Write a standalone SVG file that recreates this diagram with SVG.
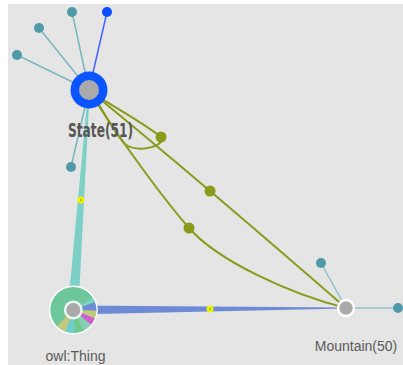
<svg xmlns="http://www.w3.org/2000/svg" width="403" height="365" viewBox="0 0 403 365">
  <style>
    .sat-link { stroke: #78b6c1; stroke-width: 1.5; fill: none; }
    .sat { fill: #4f9aa8; }
    .prop { stroke: #8a9b1b; stroke-width: 2; fill: none; }
    .prop-dot { fill: #8a9b1b; }
    .mark { fill: #eef200; }
    .mark-core { fill: #a6a820; }
    .label { font-family: "Liberation Sans", Arial, sans-serif; font-size: 14px; fill: #5a5a5a; text-anchor: middle; }
    .title { font-family: "Liberation Sans Narrow", "DejaVu Sans Condensed", "Liberation Sans", sans-serif; font-weight: bold; font-size: 19px; fill: #565656; text-anchor: middle; }
  </style>

  <!-- canvas -->
  <rect x="0" y="0" width="403" height="365" fill="#ffffff"/>
  <rect x="8" y="4" width="395" height="361" fill="#e5e5e5"/>

  <!-- connectors -->
  <g id="links">
    <!-- satellite spokes around State -->
    <line class="sat-link" x1="72" y1="12" x2="89" y2="90"/>
    <line x1="107" y1="12" x2="89" y2="90" stroke="#4266ff" stroke-width="1.5"/>
    <line class="sat-link" x1="39" y1="28" x2="89" y2="90"/>
    <line class="sat-link" x1="17" y1="55" x2="89" y2="90"/>
    <line class="sat-link" x1="71" y1="167" x2="89" y2="90"/>
    <!-- satellite spokes around Mountain -->
    <line x1="321" y1="263" x2="346" y2="308" stroke="#8cc3cc" stroke-width="1.5"/>
    <line x1="398" y1="308" x2="346" y2="308" stroke="#8cc3cc" stroke-width="1.5"/>

    <!-- State -> owl:Thing (tapered) -->
    <polygon points="89.8,90 88.2,90 67.7,309.6 78.3,310.4" fill="#7cd0c6"/>
    <!-- owl:Thing -> Mountain (tapered) -->
    <polygon points="73,305.6 73,314.4 346,308.4 346,307.6" fill="#6f8ad5"/>

    <!-- State -> Mountain properties -->
    <path class="prop" d="M89,90 Q202.5,183 346,308"/>
    <path class="prop" d="M89,90 C110,125 160,195 189,228 C218,261 290,294 346,308"/>
    <!-- State self-loop -->
    <path class="prop" d="M92,93 C120,110 148,126 161,137 C166,146 140,153 126,145 C118,138 108,120 98,103"/>
  </g>

  <!-- property label markers -->
  <g id="markers">
    <circle class="prop-dot" cx="161" cy="137" r="5.5"/>
    <circle class="prop-dot" cx="210" cy="191" r="5.5"/>
    <circle class="prop-dot" cx="189" cy="228" r="5.5"/>
    <circle class="mark" cx="81" cy="200" r="3.5"/>
    <circle class="mark-core" cx="81" cy="200" r="1"/>
    <circle class="mark" cx="210" cy="309" r="3.5"/>
    <circle class="mark-core" cx="210" cy="309" r="1"/>
  </g>

  <!-- satellites -->
  <g id="state-satellites">
    <circle class="sat" cx="72" cy="12" r="5"/>
    <circle cx="107" cy="12" r="5" fill="#0a4cff"/>
    <circle class="sat" cx="39" cy="28" r="5"/>
    <circle class="sat" cx="17" cy="55" r="5"/>
    <circle class="sat" cx="71" cy="167" r="5"/>
  </g>
  <g id="mountain-satellites">
    <circle class="sat" cx="321" cy="263" r="5"/>
    <circle class="sat" cx="398" cy="308" r="5"/>
  </g>

  <!-- State(51) -->
  <g id="state">
    <circle cx="89" cy="90" r="18.5" fill="#0a55ff"/>
    <circle cx="89" cy="90" r="10" fill="#aaaaaa"/>
    <text class="title" x="100.5" y="137" textLength="65" lengthAdjust="spacingAndGlyphs">State(51)</text>
  </g>

  <!-- owl:Thing with class share ring -->
  <g id="owl-thing" transform="translate(73.3,310)">
    <circle r="24.5" fill="#ffffff"/>
    <circle r="23" fill="#6cc79b"/>
    <!-- slices, angles clockwise from east -->
    <path d="M0,0 L19.29,-12.53 A23,23 0 0 1 21.61,-7.87 Z" fill="#7dd2c2"/>
    <path d="M0,0 L21.61,-7.87 A23,23 0 0 1 22.99,0.80 Z" fill="#6f8ad6"/>
    <path d="M0,0 L22.99,0.80 A23,23 0 0 1 21.47,8.24 Z" fill="#c3c97d"/>
    <path d="M0,0 L21.47,8.24 A23,23 0 0 1 17.62,14.78 Z" fill="#d45cd2"/>
    <path d="M0,0 L17.62,14.78 A23,23 0 0 1 10.08,20.67 Z" fill="#86cfb2"/>
    <path d="M0,0 L10.08,20.67 A23,23 0 0 1 1.60,22.94 Z" fill="#6fc98a"/>
    <path d="M0,0 L1.60,22.94 A23,23 0 0 1 -7.87,21.61 Z" fill="#6dcfc9"/>
    <path d="M0,0 L-7.87,21.61 A23,23 0 0 1 -16.55,15.98 Z" fill="#c0c97f"/>
    <circle r="9.5" fill="#ffffff" opacity="0.85"/>
    <circle r="7" fill="#aaaaaa"/>
  </g>
  <text class="label" x="75.5" y="361">owl:Thing</text>

  <!-- Mountain(50) -->
  <g id="mountain">
    <circle cx="346" cy="308" r="8" fill="#aaaaaa" stroke="#ffffff" stroke-width="2.5"/>
    <text class="label" x="356" y="350.5">Mountain(50)</text>
  </g>
</svg>
